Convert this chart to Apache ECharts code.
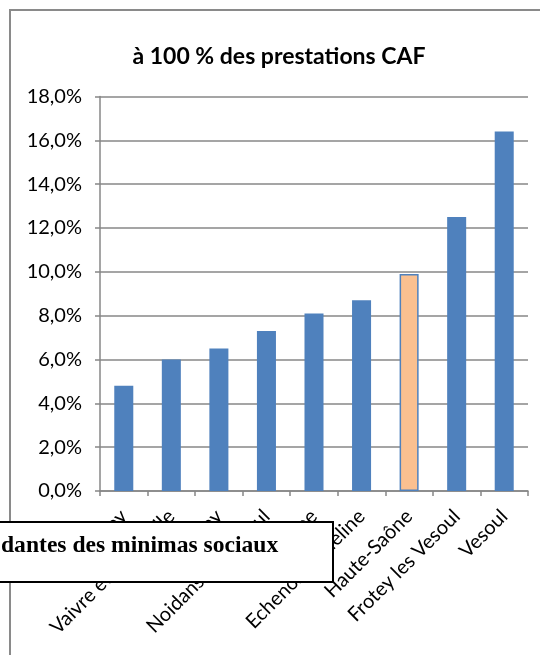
<!DOCTYPE html>
<html>
<head>
<meta charset="utf-8">
<script src="https://cdn.jsdelivr.net/npm/echarts@6/dist/echarts.min.js"></script>
<style>
  html, body { margin: 0; padding: 0; background: #fff; }
  #chart { width: 540px; height: 655px; }
</style>
</head>
<body>
<div id="chart"></div>
<script>
// Communes compared with the department average
const communes = [
  "Pusey",
  "Vaivre et Montoille",
  "Quincey",
  "Noidans les Vesoul",
  "Navenne",
  "Echenoz la Meline",
  "Haute-Saône",
  "Frotey les Vesoul",
  "Vesoul"
];
// Share of households depending 100 % on CAF benefits (percent)
const shares = [4.8, 6.0, 6.5, 7.3, 8.1, 8.7, 9.9, 12.5, 16.4];
// Department reference highlighted in orange
const highlighted = "Haute-Saône";
const yTicks = { min: 0, max: 18, step: 2 };

const BLUE = "#4F81BD";
const ORANGE = "#FAC090";
const GRID = "#878787";
const FONT = "Lato, 'Open Sans', sans-serif";

const chart = echarts.init(document.getElementById("chart"), null, { renderer: "canvas" });

const barData = communes.map((name, i) => {
  const item = { value: shares[i] };
  if (name === highlighted) {
    item.itemStyle = { color: ORANGE, borderColor: BLUE, borderWidth: 1.5 };
  }
  return item;
});

chart.setOption({
  animation: false,
  backgroundColor: "#fff",
  title: {
    text: "à 100 % des prestations CAF",
    left: 274,
    textAlign: "center",
    top: 40,
    textStyle: { fontFamily: FONT, fontWeight: "bold", fontSize: 23, color: "#000" }
  },
  grid: { left: 100, right: 12, top: 96.5, bottom: 164, containLabel: false },
  xAxis: {
    type: "category",
    data: communes,
    axisLine: { lineStyle: { color: GRID, width: 1.5 } },
    axisTick: { show: true, length: 5, lineStyle: { color: GRID, width: 1.5 } },
    axisLabel: {
      interval: 0,
      rotate: 45,
      margin: 22,
      fontFamily: FONT,
      fontSize: 20,
      color: "#000"
    }
  },
  yAxis: {
    type: "value",
    min: yTicks.min,
    max: yTicks.max,
    interval: yTicks.step,
    axisLine: { show: true, lineStyle: { color: GRID, width: 1.5 } },
    axisTick: { show: true, length: 5, lineStyle: { color: GRID, width: 1.5 } },
    splitLine: { lineStyle: { color: GRID, width: 1.5 } },
    axisLabel: {
      margin: 18,
      fontFamily: FONT,
      fontSize: 20,
      color: "#000",
      formatter: v => v.toFixed(1).replace(".", ",") + "%"
    }
  },
  series: [{
    type: "bar",
    data: barData,
    barWidth: "40%",
    itemStyle: { color: BLUE }
  }],
  graphic: [
    // outer frame of the chart object
    {
      type: "polyline",
      zlevel: 1,
      shape: { points: [[10, 655], [10, 10], [540, 10]] },
      style: { stroke: "#8a8a8a", lineWidth: 2, fill: null }
    },
    // overlapping text box, drawn above the axis labels
    {
      type: "rect",
      zlevel: 2,
      shape: { x: -10, y: 522, width: 343, height: 60 },
      style: { fill: "#fff", stroke: "#000", lineWidth: 2 }
    },
    {
      type: "text",
      zlevel: 2,
      z: 10,
      x: 1,
      y: 546,
      style: {
        text: "dantes des minimas sociaux",
        font: "bold 23.6px 'Liberation Serif', 'DejaVu Serif', serif",
        fill: "#000",
        verticalAlign: "middle",
        align: "left"
      }
    }
  ]
});
</script>
</body>
</html>
